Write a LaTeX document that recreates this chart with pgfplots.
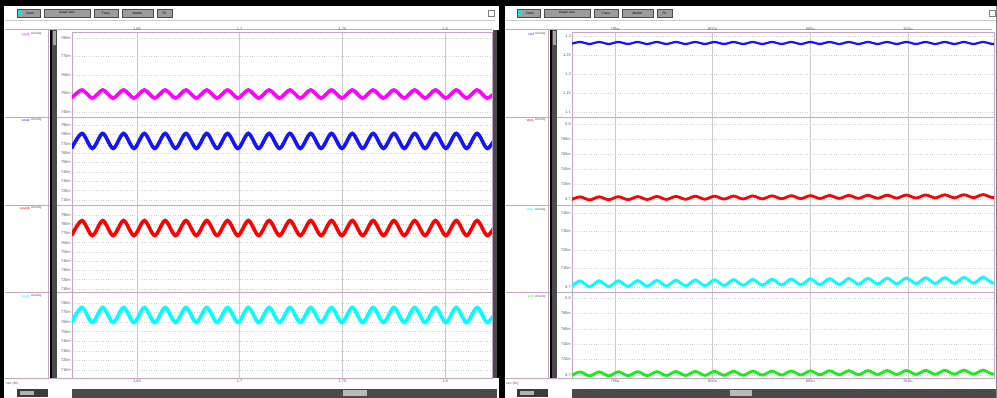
\documentclass[border=0pt]{standalone}
\usepackage{pgfplots}
\pgfplotsset{compat=1.18}
\usepackage{pgfplotstable}
\usepackage{fontspec}
\setmainfont{Liberation Sans}
\definecolor{sep}{HTML}{C8A6C8}
\definecolor{gridc}{HTML}{CACACA}
\definecolor{hgridc}{HTML}{D4D4D4}
\definecolor{wmag}{HTML}{FF00FF}
\definecolor{wblue}{HTML}{1414FF}
\definecolor{wred}{HTML}{FF0000}
\definecolor{wcyan}{HTML}{00FFFF}
\definecolor{wgreen}{HTML}{14F014}
\definecolor{barc}{HTML}{4A4A4A}
\definecolor{tbox}{HTML}{9C9C9C}
\definecolor{tickc}{HTML}{606060}

\pgfplotstableread{
x m b r c
1.61819 0.7475 0.7650 0.7678 0.7597
1.62325 0.7519 0.7810 0.7840 0.7753
1.62831 0.7475 0.7650 0.7678 0.7597
1.63337 0.7519 0.7810 0.7840 0.7753
1.63843 0.7475 0.7650 0.7678 0.7597
1.64349 0.7519 0.7810 0.7840 0.7753
1.64855 0.7475 0.7650 0.7678 0.7597
1.65361 0.7519 0.7810 0.7840 0.7753
1.65867 0.7475 0.7650 0.7678 0.7597
1.66373 0.7519 0.7810 0.7840 0.7753
1.66879 0.7475 0.7650 0.7678 0.7597
1.67385 0.7519 0.7810 0.7840 0.7753
1.67891 0.7475 0.7650 0.7678 0.7597
1.68397 0.7519 0.7810 0.7840 0.7753
1.68903 0.7475 0.7650 0.7678 0.7597
1.69409 0.7519 0.7810 0.7840 0.7753
1.69915 0.7475 0.7650 0.7678 0.7597
1.70421 0.7519 0.7810 0.7840 0.7753
1.70927 0.7475 0.7650 0.7678 0.7597
1.71433 0.7519 0.7810 0.7840 0.7753
1.71939 0.7475 0.7650 0.7678 0.7597
1.72445 0.7519 0.7810 0.7840 0.7753
1.72951 0.7475 0.7650 0.7678 0.7597
1.73457 0.7519 0.7810 0.7840 0.7753
1.73963 0.7475 0.7650 0.7678 0.7597
1.74469 0.7519 0.7810 0.7840 0.7753
1.74975 0.7475 0.7650 0.7678 0.7597
1.75481 0.7519 0.7810 0.7840 0.7753
1.75987 0.7475 0.7650 0.7678 0.7597
1.76493 0.7519 0.7810 0.7840 0.7753
1.76999 0.7475 0.7650 0.7678 0.7597
1.77505 0.7519 0.7810 0.7840 0.7753
1.78011 0.7475 0.7650 0.7678 0.7597
1.78517 0.7519 0.7810 0.7840 0.7753
1.79023 0.7475 0.7650 0.7678 0.7597
1.79529 0.7519 0.7810 0.7840 0.7753
1.80035 0.7475 0.7650 0.7678 0.7597
1.80541 0.7519 0.7810 0.7840 0.7753
1.81047 0.7475 0.7650 0.7678 0.7597
1.81553 0.7519 0.7810 0.7840 0.7753
1.82059 0.7475 0.7650 0.7678 0.7597
1.82565 0.7519 0.7810 0.7840 0.7753
}\lefttab

\pgfplotstableread{
x bl rd cy gr
792.72 1.2790 0.6987 0.7000 0.6987
793.21 1.2842 0.7028 0.7033 0.7040
793.70 1.2790 0.6988 0.7001 0.6988
794.19 1.2842 0.7029 0.7034 0.7041
794.68 1.2790 0.6990 0.7002 0.6989
795.17 1.2842 0.7031 0.7034 0.7042
795.67 1.2790 0.6991 0.7003 0.6991
796.16 1.2842 0.7032 0.7035 0.7043
796.65 1.2790 0.6993 0.7004 0.6992
797.14 1.2842 0.7034 0.7036 0.7044
797.63 1.2790 0.6994 0.7005 0.6993
798.12 1.2842 0.7035 0.7037 0.7045
798.61 1.2790 0.6996 0.7006 0.6994
799.11 1.2842 0.7037 0.7038 0.7047
799.60 1.2790 0.6997 0.7007 0.6995
800.09 1.2842 0.7038 0.7039 0.7048
800.58 1.2790 0.6999 0.7008 0.6996
801.07 1.2842 0.7039 0.7040 0.7049
801.56 1.2790 0.7000 0.7009 0.6997
802.05 1.2842 0.7041 0.7041 0.7050
802.54 1.2790 0.7002 0.7010 0.6999
803.04 1.2842 0.7042 0.7042 0.7051
803.53 1.2790 0.7003 0.7011 0.7000
804.02 1.2842 0.7044 0.7043 0.7052
804.51 1.2790 0.7005 0.7012 0.7001
805.00 1.2842 0.7045 0.7044 0.7053
805.49 1.2790 0.7006 0.7013 0.7002
805.98 1.2842 0.7047 0.7045 0.7055
806.48 1.2790 0.7008 0.7014 0.7003
806.97 1.2842 0.7048 0.7046 0.7056
807.46 1.2790 0.7009 0.7015 0.7004
807.95 1.2842 0.7050 0.7047 0.7057
808.44 1.2790 0.7010 0.7016 0.7006
808.93 1.2842 0.7051 0.7048 0.7058
809.42 1.2790 0.7012 0.7017 0.7007
809.91 1.2842 0.7053 0.7049 0.7059
810.41 1.2790 0.7013 0.7018 0.7008
810.90 1.2842 0.7054 0.7050 0.7060
811.39 1.2790 0.7015 0.7019 0.7009
811.88 1.2842 0.7056 0.7051 0.7062
812.37 1.2790 0.7016 0.7020 0.7010
812.86 1.2842 0.7057 0.7052 0.7063
813.35 1.2790 0.7018 0.7021 0.7011
813.84 1.2842 0.7059 0.7053 0.7064
814.34 1.2790 0.7019 0.7022 0.7012
814.83 1.2842 0.7060 0.7054 0.7065
}\righttab

\pgfplotsset{
  strip/.style={
    scale only axis,
    anchor=south west,
    axis line style={draw=sep, line width=0.8pt},
    xmajorgrids, ymajorgrids,
    x grid style={gridc, line width=0.6pt},
    y grid style={hgridc, dotted, line width=0.6pt},
    major tick length=0pt, minor tick length=0pt,
    tick label style={font=\fontsize{4}{4}\selectfont, text=tickc},
    yticklabel style={inner sep=1pt},
    xticklabel style={inner sep=1.5pt},
  },
  lstrip/.style={strip, width=420pt, xmin=1.6184, xmax=1.8228,
    xtick={1.65,1.7,1.75,1.8}, xticklabels={,,,}},
  rstrip/.style={strip, width=422pt, xmin=792.80, xmax=814.40,
    xtick={795,800,805,810}, xticklabels={,,,}},
}

\begin{document}
\begin{tikzpicture}
\useasboundingbox (0pt,0pt) rectangle (997pt,-398pt);
\fill[white] (0pt,0pt) rectangle (997pt,-398pt);

% ---------------- decorations (pixel coords) ----------------
\begin{scope}[x=1pt,y=-1pt]
\foreach \o in {0,500}{
  % toolbar
  \foreach \a/\b in {17/40,44/90,94/118,122/153,157/172}{
    \fill[tbox] (\o+\a,9) rectangle (\o+\b,17);
    \draw[black!70, line width=0.4pt] (\o+\a,9) rectangle (\o+\b,17);
  }
  \fill[wcyan!70!gray] (\o+18,10) rectangle (\o+22,16);
  \draw[gridc] (\o+5,20) -- (\o+495,20);
  \draw[sep, line width=0.8pt] (\o+5,29.5) -- (\o+492,29.5);
  % label column border
  \draw[sep, line width=0.8pt] (\o+48,29.5) -- (\o+48,378);
  \foreach \yy in {117,205,292,378}
    \draw[sep, line width=0.8pt] (\o+5,\yy) -- (\o+72,\yy);
  % dark vertical bar
  \fill[barc] (\o+50,30) rectangle (\o+57,378);
  \fill[black] (\o+50,30) rectangle (\o+51.5,378);
  \fill[gray!70] (\o+53,31) rectangle (\o+56,45);
  % bottom
  \node[font=\fontsize{3.5}{4}\selectfont, text=tickc, anchor=west, inner sep=0] at (\o+6,384) {sec (lin)};
  \fill[barc] (\o+72,389) rectangle (\o+497,398);
  \fill[barc!80!black] (\o+17,389) rectangle (\o+48,397);
  \fill[gray!60] (\o+20,391) rectangle (\o+34,395);
}
% toolbar texts
\foreach \o in {0,500}{
  \node[font=\fontsize{3.2}{3.5}\selectfont, text=black, inner sep=0] at (\o+30,13) {Zoom};
  \node[font=\fontsize{3.2}{3.5}\selectfont, text=black, inner sep=0] at (\o+67,13) {Graph Axis};
  \node[font=\fontsize{3.2}{3.5}\selectfont, text=black, inner sep=0] at (\o+106,13) {Trace};
  \node[font=\fontsize{3.2}{3.5}\selectfont, text=black, inner sep=0] at (\o+137.5,13) {Marker};
  \node[font=\fontsize{3.2}{3.5}\selectfont, text=black, inner sep=0] at (\o+164.5,13) {Fit};
}
\draw[gray] (488,10) rectangle (494,16);
\draw[gray] (989,10) rectangle (995,16);
% scrollbar of left panel and thumb
\fill[barc] (493,30) rectangle (498,378);
\fill[black] (497,30) rectangle (498.5,378);
\fill[gray!55] (343,390) rectangle (367,396);
\fill[gray!55] (730,390) rectangle (752,396);
% signal names
\foreach \yy/\c/\n in {34/wmag/vout1,120/wblue/vout2,208/wred/vout3b,296/wcyan/vout4}{
  \node[font=\fontsize{3.3}{3.5}\selectfont, text=\c, anchor=east, inner sep=0] at (30,\yy) {\n};
  \node[font=\fontsize{3.3}{3.5}\selectfont, text=tickc, anchor=west, inner sep=0] at (31,\yy) {Analog};
}
\foreach \yy/\c/\n in {34/wblue/vref,120/wred/vbn1,210/wcyan/vbp2,297/wgreen/vcm}{
  \node[font=\fontsize{3.3}{3.5}\selectfont, text=\c, anchor=east, inner sep=0] at (534,\yy) {\n};
  \node[font=\fontsize{3.3}{3.5}\selectfont, text=tickc, anchor=west, inner sep=0] at (535,\yy) {Analog};
}
% black frame
\fill[black] (0,0) rectangle (997,6);
\fill[black] (0,0) rectangle (4,398);
\fill[black] (499,0) rectangle (505,398);
\draw[gray, line width=0.8pt] (996.4,6) -- (996.4,398);
\end{scope}

% ---------------- left panel ----------------
\begin{axis}[lstrip, at={(72pt,-117pt)}, height=85pt,
  ymin=0.7373, ymax=0.7832,
  ytick={0.74,0.75,0.76,0.77,0.78}, yticklabels={740m,750m,760m,770m,780m},
  xticklabel pos=right, xticklabels={1.65,1.7,1.75,1.8}]
\addplot[wmag, line width=3.6pt, smooth] table[x=x,y=m] {\lefttab};
\end{axis}
\begin{axis}[lstrip, at={(72pt,-205pt)}, height=88pt,
  ymin=0.7047, ymax=0.7985,
  ytick={0.71,0.72,0.73,0.74,0.75,0.76,0.77,0.78,0.79},
  yticklabels={710m,720m,730m,740m,750m,760m,770m,780m,790m}]
\addplot[wblue, line width=3.6pt, smooth] table[x=x,y=b] {\lefttab};
\end{axis}
\begin{axis}[lstrip, at={(72pt,-292pt)}, height=87pt,
  ymin=0.7068, ymax=0.8008,
  ytick={0.71,0.72,0.73,0.74,0.75,0.76,0.77,0.78,0.79},
  yticklabels={710m,720m,730m,740m,750m,760m,770m,780m,790m}]
\addplot[wred, line width=3.6pt, smooth] table[x=x,y=r] {\lefttab};
\end{axis}
\begin{axis}[lstrip, at={(72pt,-378pt)}, height=86pt,
  ymin=0.7016, ymax=0.7915,
  ytick={0.71,0.72,0.73,0.74,0.75,0.76,0.77,0.78},
  yticklabels={710m,720m,730m,740m,750m,760m,770m,780m},
  xticklabels={1.65,1.7,1.75,1.8}]
\addplot[wcyan, line width=3.6pt, smooth] table[x=x,y=c] {\lefttab};
\end{axis}

% ---------------- right panel ----------------
\begin{axis}[rstrip, at={(572pt,-117pt)}, height=85pt,
  ymin=1.0868, ymax=1.3105,
  ytick={1.1,1.15,1.2,1.25,1.3}, yticklabels={1.1,1.15,1.2,1.25,1.3},
  xticklabel pos=right, xticklabels={795u,800u,805u,810u}]
\addplot[wblue, line width=2.2pt, smooth] table[x=x,y=bl] {\righttab};
\end{axis}
\begin{axis}[rstrip, at={(572pt,-205pt)}, height=88pt,
  ymin=0.692, ymax=0.8093,
  ytick={0.7,0.72,0.74,0.76,0.78,0.8}, yticklabels={0.7,720m,740m,760m,780m,0.8}]
\addplot[wred, line width=2.8pt, smooth] table[x=x,y=rd] {\righttab};
\end{axis}
\begin{axis}[rstrip, at={(572pt,-292pt)}, height=87pt,
  ymin=0.6973, ymax=0.7443,
  ytick={0.7,0.71,0.72,0.73,0.74}, yticklabels={0.7,710m,720m,730m,740m}]
\addplot[wcyan, line width=2.8pt, smooth] table[x=x,y=cy] {\righttab};
\end{axis}
\begin{axis}[rstrip, at={(572pt,-378pt)}, height=86pt,
  ymin=0.6961, ymax=0.8078,
  ytick={0.7,0.72,0.74,0.76,0.78,0.8}, yticklabels={0.7,720m,740m,760m,780m,0.8},
  xticklabels={795u,800u,805u,810u}]
\addplot[wgreen, line width=2.8pt, smooth] table[x=x,y=gr] {\righttab};
\end{axis}
\end{tikzpicture}
\end{document}
